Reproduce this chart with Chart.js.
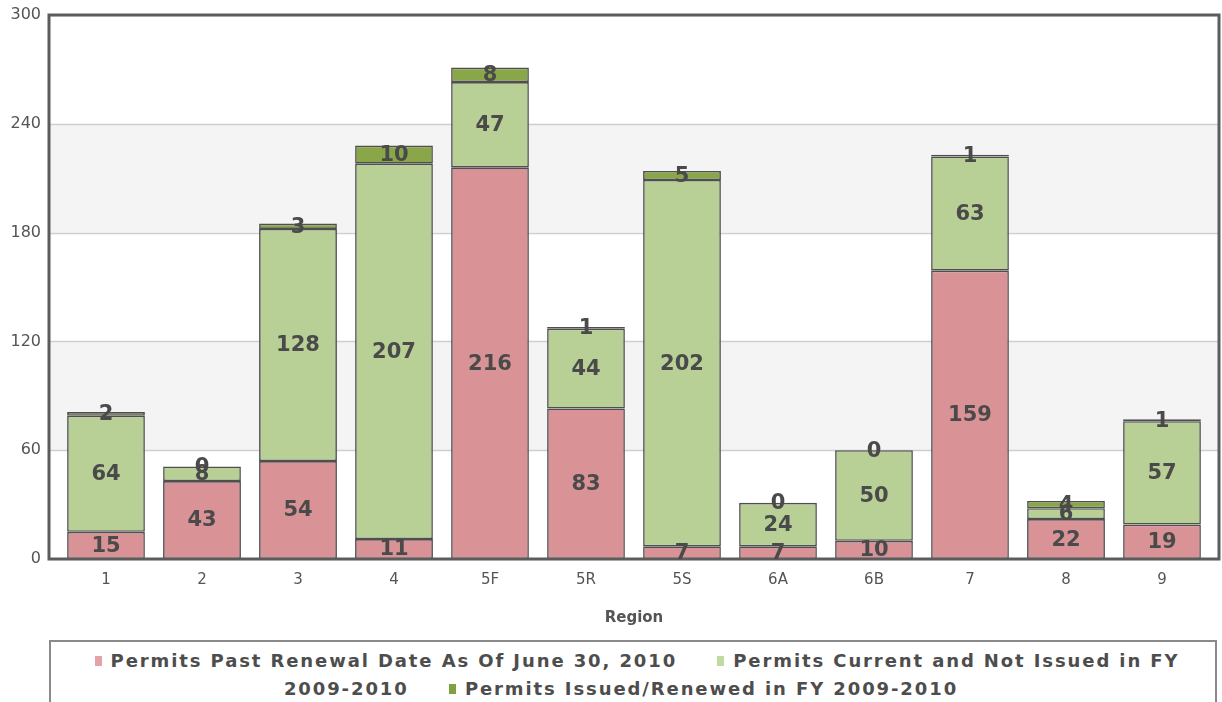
<!doctype html><html lang="en"><head>
<meta charset="UTF-8"><title>Permits by Region</title>
<script src="https://cdn.jsdelivr.net/npm/chart.js"></script>
<style>
 body{margin:0;background:#fff;width:1222px;height:702px;overflow:hidden;position:relative}
 #wrap{position:absolute;left:0;top:0;width:1222px;height:635px}
 #legend{position:absolute;left:49px;top:640px;width:1168px;height:80px;box-sizing:border-box;
   border:2px solid #8a8a8a;text-align:center;font:bold 18px "DejaVu Sans",Verdana,sans-serif;
   letter-spacing:1.9px;color:#4d4d4d;line-height:28px;padding:5px 34px 0 26px}
 #legend .it{margin:0 16px}
 #legend i{display:inline-block;width:7px;height:10px;margin-right:9px;vertical-align:1px}
</style></head><body>
<div id="wrap"><canvas id="c"></canvas></div>
<div id="legend"></div>
<script>
// ----- data -----
const regions   = ['1','2','3','4','5F','5R','5S','6A','6B','7','8','9'];
const pastDue   = [15,43,54,11,216,83,7,7,10,159,22,19];
const current   = [64,8,128,207,47,44,202,24,50,63,6,57];
const renewed   = [2,0,3,10,8,1,5,0,0,1,4,1];
const yTicks    = [0,60,120,180,240,300];
const seriesNames = ['Permits Past Renewal Date As Of June 30, 2010',
                     'Permits Current and Not Issued in FY 2009-2010',
                     'Permits Issued/Renewed in FY 2009-2010'];
const colors    = ['#d99396','#b8cf96','#89a748'];
const legendCol = ['#e3a3a8','#c3d9a3','#7fa23e'];

// frame + shaded bands, spanning a bit wider than the bars
const PAD = 9;
const backdrop = {
  id:'backdrop',
  beforeDatasetsDraw(chart){
    const {ctx, chartArea:a, scales:{y}} = chart;
    const l = a.left-PAD, r = a.right+PAD;
    ctx.save();
    for(let i=0;i<yTicks.length-1;i++){
      if(i%2===1){
        const t=y.getPixelForValue(yTicks[i+1]), b=y.getPixelForValue(yTicks[i]);
        ctx.fillStyle='#f4f4f4'; ctx.fillRect(l,t,r-l,b-t);
      }
    }
    ctx.strokeStyle='#cfcfcf'; ctx.lineWidth=1.5;
    yTicks.forEach(v=>{
      const p=Math.round(y.getPixelForValue(v))+0.5;
      ctx.beginPath(); ctx.moveTo(l,p); ctx.lineTo(r,p); ctx.stroke();
    });
    ctx.restore();
  },
  afterDatasetsDraw(chart){
    const {ctx, chartArea:a} = chart;
    ctx.save();
    ctx.strokeStyle='#5c5c5c'; ctx.lineWidth=3;
    ctx.strokeRect(a.left-PAD, a.top, a.right-a.left+2*PAD, a.bottom-a.top);
    // value labels
    ctx.font='bold 21px "DejaVu Sans", Verdana, sans-serif';
    ctx.fillStyle='#4a4a4a'; ctx.textAlign='center'; ctx.textBaseline='middle';
    chart.data.datasets.forEach((ds,di)=>{
      chart.getDatasetMeta(di).data.forEach((el,i)=>{
        const {x,y,base}=el.getProps(['x','y','base'],true);
        ctx.fillText(String(ds.data[i]), x, (y+base)/2+1);
      });
    });
    ctx.restore();
  }
};

const tickFont = {family:'"DejaVu Sans", Verdana, sans-serif', size:16};
new Chart(document.getElementById('c'),{
  type:'bar',
  data:{labels:regions,datasets:[pastDue,current,renewed].map((d,i)=>({
    label:seriesNames[i], data:d, backgroundColor:colors[i],
    borderColor:'#4f4f4f', borderWidth:1.6, borderSkipped:false,
    barPercentage:0.81, categoryPercentage:1
  }))},
  options:{
    responsive:true, maintainAspectRatio:false, animation:false,
    layout:{padding:{top:15,right:12,left:0,bottom:0}},
    plugins:{legend:{display:false},tooltip:{enabled:false}},
    scales:{
      x:{stacked:true, grid:{display:false}, border:{display:false},
         ticks:{color:'#555',font:{...tickFont,size:15},padding:4},
         title:{display:true,text:'Region',color:'#555',
                font:{...tickFont,size:15,weight:'bold'},padding:{top:0,bottom:8}},
         afterFit:s=>{s.height=76;}},
      y:{stacked:true, min:0, max:300, grid:{display:false,drawTicks:false}, border:{display:false},
         afterBuildTicks:s=>{s.ticks=yTicks.map(v=>({value:v}));},
         ticks:{color:'#555',font:tickFont,padding:17},
         afterFit:s=>{s.width=58; s.paddingTop=8; s.paddingBottom=8;}}
    }
  },
  plugins:[backdrop]
});

// html legend so long labels wrap like the original
document.getElementById('legend').innerHTML = seriesNames.map((n,i)=>
  `<span class="it"><i style="background:${legendCol[i]}"></i>${n}</span>`).join(' ');
</script>
</body></html>
